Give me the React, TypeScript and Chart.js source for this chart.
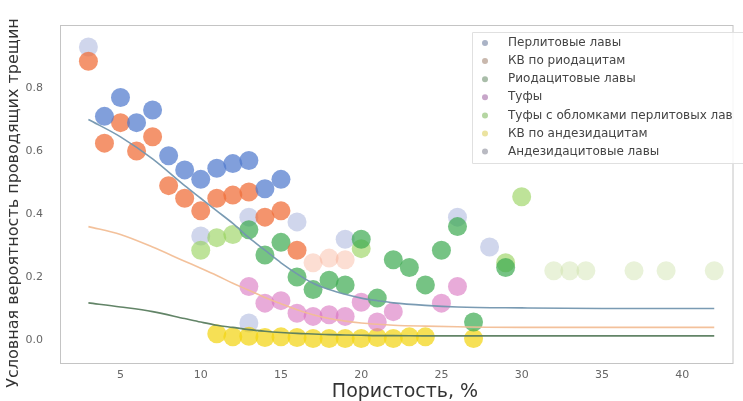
import React, { useEffect, useRef } from "react";
import { Chart, registerables } from "chart.js";
Chart.register(...registerables);

const FONT = "'DejaVu Sans', sans-serif";

const xTicks = [5, 10, 15, 20, 25, 30, 35, 40];
const yTicks = [0, 0.2, 0.4, 0.6, 0.8];

const seriesNames = [
  "Перлитовые лавы",
  "КВ по риодацитам",
  "Риодацитовые лавы",
  "Туфы",
  "Туфы с обломками перлитовых лав",
  "КВ по андезидацитам",
  "Андезидацитовые лавы",
];

// Перлитовые лавы
const perlX = [4, 5, 6, 7, 8, 9, 10, 11, 12, 13, 14, 15];
const perlY = [0.71, 0.77, 0.69, 0.73, 0.585, 0.54, 0.51, 0.545, 0.56, 0.57, 0.48, 0.51];
// КВ по риодацитам
const kvRioX = [3, 4, 5, 6, 7, 8, 9, 10, 11, 12, 13, 14, 15, 16];
const kvRioY = [0.885, 0.625, 0.69, 0.6, 0.645, 0.49, 0.45, 0.41, 0.45, 0.46, 0.47, 0.39, 0.41, 0.285];
const kvRioFaintX = [17, 18, 19];
const kvRioFaintY = [0.245, 0.26, 0.255];
// Риодацитовые лавы
const rioX = [13, 14, 15, 16, 17, 18, 19, 20, 21, 22, 23, 24, 25, 26, 27, 29];
const rioY = [0.35, 0.27, 0.31, 0.2, 0.16, 0.19, 0.175, 0.32, 0.133, 0.255, 0.23, 0.175, 0.285, 0.36, 0.057, 0.23];
// Туфы
const tufX = [13, 14, 15, 16, 17, 18, 19, 20, 21, 22, 25, 26];
const tufY = [0.17, 0.117, 0.125, 0.085, 0.075, 0.08, 0.075, 0.12, 0.057, 0.09, 0.117, 0.17];
// Туфы с обломками перлитовых лав
const tufPerlX = [10, 11, 12, 20, 29, 30];
const tufPerlY = [0.285, 0.325, 0.335, 0.29, 0.245, 0.455];
const tufPerlFaintX = [32, 33, 34, 37, 39, 42];
const tufPerlFaintY = [0.22, 0.22, 0.22, 0.22, 0.22, 0.22];
// КВ по андезидацитам
const kvAndX = [11, 12, 13, 14, 15, 16, 17, 18, 19, 20, 21, 22, 23, 24, 27];
const kvAndY = [0.02, 0.01, 0.012, 0.008, 0.01, 0.008, 0.005, 0.005, 0.005, 0.005, 0.008, 0.005, 0.01, 0.01, 0.005];
// Андезидацитовые лавы
const andX = [3, 10, 13, 16, 19, 26, 28, 13];
const andY = [0.93, 0.33, 0.39, 0.375, 0.32, 0.39, 0.295, 0.054];

// fitted curves
const fitX = [3, 5, 7, 9, 10, 11, 12, 13, 14, 15, 16, 17, 18, 19, 20, 21, 22, 24, 26, 30, 35, 42];
const fitUpper = [0.7, 0.645, 0.575, 0.49, 0.45, 0.41, 0.37, 0.325, 0.285, 0.245, 0.21, 0.18, 0.16, 0.145, 0.133, 0.125, 0.118, 0.11, 0.105, 0.102, 0.1, 0.1];
const fitMiddle = [0.36, 0.335, 0.295, 0.25, 0.228, 0.205, 0.18, 0.158, 0.135, 0.115, 0.096, 0.08, 0.068, 0.06, 0.054, 0.05, 0.047, 0.044, 0.042, 0.04, 0.04, 0.04];
const fitLower = [0.118, 0.105, 0.09, 0.068, 0.057, 0.047, 0.04, 0.033, 0.028, 0.024, 0.021, 0.019, 0.017, 0.016, 0.015, 0.014, 0.014, 0.013, 0.013, 0.013, 0.013, 0.013];

const pts = (xs: number[], ys: number[]) => xs.map((x, i) => ({ x, y: ys[i] }));

const legendMarkerColors = ["#aab3c6", "#c9b8ad", "#a9bda9", "#c7a6c9", "#b5d6a2", "#ebe3a0", "#b9bac2"];

export default function App() {
  const ref = useRef<HTMLCanvasElement | null>(null);
  useEffect(() => {
    if (!ref.current) return;
    const scatter = (label: string, data: any[], color: string) => ({
      type: "scatter" as const,
      label,
      data,
      backgroundColor: color,
      borderWidth: 0,
      pointRadius: 9.5,
      pointHoverRadius: 9.5,
      showLine: false,
    });
    const line = (data: any[], color: string) => ({
      type: "scatter" as const,
      label: "",
      data,
      showLine: true,
      borderColor: color,
      borderWidth: 1.6,
      pointRadius: 0,
      cubicInterpolationMode: "monotone" as const,
    });

    const frame = {
      id: "frame",
      afterDatasetsDraw(chart: any) {
        const { ctx, chartArea: a } = chart;
        ctx.save();
        ctx.strokeStyle = "#c4c4c4";
        ctx.lineWidth = 1;
        ctx.strokeRect(a.left + 0.5, a.top + 0.5, a.right - a.left - 1, a.bottom - a.top);
        ctx.restore();
      },
      afterDraw(chart: any) {
        const { ctx } = chart;
        ctx.save();
        ctx.fillStyle = "#333";
        ctx.textAlign = "center";
        ctx.textBaseline = "middle";
        // x title
        ctx.font = `19px ${FONT}`;
        ctx.fillText("Пористость, %", 405, 392);
        // y title
        ctx.translate(14, 203);
        ctx.rotate(-Math.PI / 2);
        ctx.font = `16px ${FONT}`;
        ctx.fillText("Условная вероятность проводящих трещин", 0, 0);
        ctx.restore();
        // legend
        ctx.save();
        const lx = 472, ly = 32, lw = 280, lh = 131;
        ctx.fillStyle = "rgba(255,255,255,0.85)";
        ctx.strokeStyle = "#e0e0e0";
        ctx.lineWidth = 1;
        ctx.beginPath();
        ctx.rect(lx + 0.5, ly + 0.5, lw, lh);
        ctx.fill();
        ctx.stroke();
        ctx.font = `12px ${FONT}`;
        ctx.textBaseline = "middle";
        ctx.textAlign = "left";
        seriesNames.forEach((name, i) => {
          const y = 43 + i * 18.1;
          ctx.fillStyle = legendMarkerColors[i];
          ctx.beginPath();
          ctx.arc(485, y, 3, 0, Math.PI * 2);
          ctx.fill();
          ctx.fillStyle = "#444";
          ctx.fillText(name, 508, y);
        });
        ctx.restore();
      },
    };

    const chart = new Chart(ref.current, {
      type: "scatter",
      data: {
        datasets: [
          line(pts(fitX, fitUpper), "rgba(115,150,175,0.95)"),
          line(pts(fitX, fitMiddle), "rgba(242,190,150,0.95)"),
          line(pts(fitX, fitLower), "rgba(90,125,95,0.95)"),
          scatter(seriesNames[0], pts(perlX, perlY), "rgba(80,122,205,0.72)"),
          scatter(seriesNames[1], pts(kvRioX, kvRioY), "rgba(240,112,60,0.75)"),
          scatter(seriesNames[2], pts(rioX, rioY), "rgba(60,170,80,0.7)"),
          scatter(seriesNames[3], pts(tufX, tufY), "rgba(215,110,190,0.58)"),
          scatter(seriesNames[4], pts(tufPerlX, tufPerlY), "rgba(150,210,90,0.62)"),
          scatter(seriesNames[5], pts(kvAndX, kvAndY), "rgba(242,212,20,0.72)"),
          scatter(seriesNames[6], pts(andX, andY), "rgba(170,180,220,0.55)"),
          scatter(seriesNames[1], pts(kvRioFaintX, kvRioFaintY), "rgba(245,160,130,0.35)"),
          scatter(seriesNames[4], pts(tufPerlFaintX, tufPerlFaintY), "rgba(200,222,160,0.4)"),
        ] as any,
      },
      options: {
        animation: false,
        responsive: false,
        devicePixelRatio: 1,
        layout: { padding: { left: 0, top: 25, right: 3, bottom: 0 } },
        plugins: { legend: { display: false }, tooltip: { enabled: false } },
        scales: {
          x: {
            type: "linear",
            min: 1.23,
            max: 43.2,
            grid: { display: false },
            border: { display: false },
            afterFit: (s: any) => { s.height = 38; },
            afterBuildTicks: (s: any) => { s.ticks = xTicks.map((v) => ({ value: v })); },
            ticks: { padding: -2, color: "#666", font: { family: FONT, size: 11 }, maxRotation: 0, autoSkip: false },
            title: { display: false },
          },
          y: {
            type: "linear",
            min: -0.073,
            max: 1.0,
            grid: { display: false },
            border: { display: false },
            afterFit: (s: any) => { s.width = 60; },
            afterBuildTicks: (s: any) => { s.ticks = yTicks.map((v) => ({ value: v })); },
            ticks: { padding: 9, color: "#666", font: { family: FONT, size: 11 }, callback: (v: any) => Number(v).toFixed(1) },
          },
        },
      },
      plugins: [frame],
    } as any);
    return () => chart.destroy();
  }, []);
  return (
    <div style={{ position: "fixed", left: 0, top: 0, width: 743, height: 401, background: "#fff" }}>
      <canvas ref={ref} width={743} height={401} style={{ width: 743, height: 401, display: "block" }} />
    </div>
  );
}
